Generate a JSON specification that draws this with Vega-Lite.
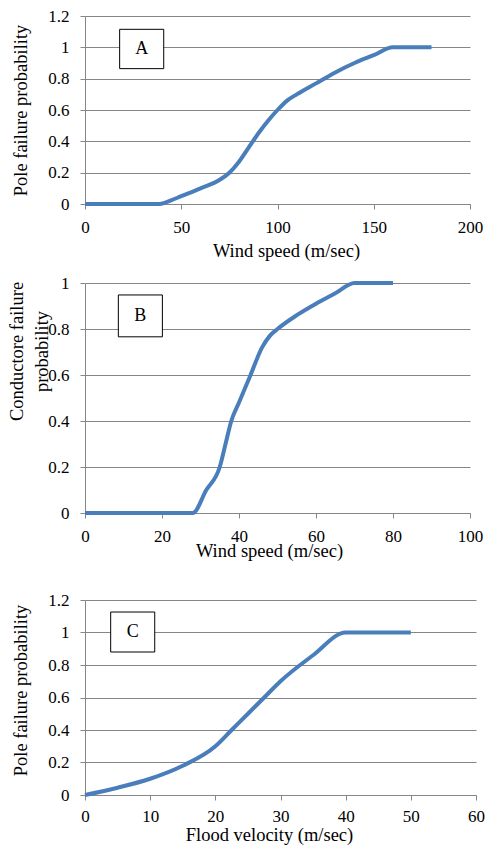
{
  "$schema": "https://vega.github.io/schema/vega-lite/v6.json",
  "padding": {"left": 7, "top": 7, "right": 5, "bottom": 2},
  "background": "white",
  "config": {
    "view": {"stroke": null},
    "font": "Liberation Serif, Times New Roman, serif",
    "axis": {
      "labelFont": "Liberation Serif, Times New Roman, serif",
      "titleFont": "Liberation Serif, Times New Roman, serif",
      "labelFontSize": 17,
      "titleFontSize": 18.5,
      "titleFontWeight": "normal",
      "labelColor": "black",
      "titleColor": "black",
      "domainColor": "#868686",
      "tickColor": "#868686",
      "gridColor": "#868686",
      "tickSize": 5,
      "tickCount": 12,
      "labelOverlap": false
    },
    "axisX": {"grid": false, "labelFlush": false, "labelPadding": 10},
    "axisY": {"grid": true, "titlePadding": 17, "labelPadding": 11}
  },
  "datasets": {
    "a": [
      {"x": 0, "y": 0}, {"x": 10, "y": 0}, {"x": 20, "y": 0}, {"x": 30, "y": 0}, {"x": 38, "y": 0},
      {"x": 45, "y": 0.025}, {"x": 50, "y": 0.05}, {"x": 60, "y": 0.1}, {"x": 70, "y": 0.155},
      {"x": 75, "y": 0.2}, {"x": 80, "y": 0.27}, {"x": 85, "y": 0.36}, {"x": 90, "y": 0.45},
      {"x": 95, "y": 0.53}, {"x": 100, "y": 0.6}, {"x": 105, "y": 0.66}, {"x": 110, "y": 0.7},
      {"x": 120, "y": 0.77}, {"x": 130, "y": 0.84}, {"x": 140, "y": 0.9}, {"x": 150, "y": 0.95},
      {"x": 160, "y": 1}, {"x": 170, "y": 1}, {"x": 180, "y": 1}
    ],
    "b": [
      {"x": 0, "y": 0}, {"x": 10, "y": 0}, {"x": 20, "y": 0}, {"x": 28, "y": 0},
      {"x": 31.5, "y": 0.1}, {"x": 35, "y": 0.2}, {"x": 36.5, "y": 0.3}, {"x": 38, "y": 0.4},
      {"x": 40, "y": 0.48}, {"x": 43, "y": 0.6}, {"x": 46, "y": 0.72}, {"x": 48, "y": 0.77},
      {"x": 50, "y": 0.8}, {"x": 55, "y": 0.86}, {"x": 60, "y": 0.91}, {"x": 65, "y": 0.955},
      {"x": 70, "y": 1}, {"x": 75, "y": 1}, {"x": 80, "y": 1}
    ],
    "c": [
      {"x": 0, "y": 0}, {"x": 5, "y": 0.045}, {"x": 10, "y": 0.1}, {"x": 15, "y": 0.18},
      {"x": 20, "y": 0.3}, {"x": 22.5, "y": 0.4}, {"x": 25, "y": 0.5}, {"x": 27.5, "y": 0.6},
      {"x": 30, "y": 0.7}, {"x": 35, "y": 0.86}, {"x": 40, "y": 1}, {"x": 45, "y": 1}, {"x": 50, "y": 1}
    ],
    "boxa": [{"x1": 18, "x2": 40.9, "y1": 0.864, "y2": 1.115, "xc": 29.45, "yc": 0.99, "label": "A"}],
    "boxb": [{"x1": 8.66, "x2": 20.1, "y1": 0.766, "y2": 0.948, "xc": 14.38, "yc": 0.857, "label": "B"}],
    "boxc": [{"x1": 3.94, "x2": 10.7, "y1": 0.88, "y2": 1.126, "xc": 7.32, "yc": 1.003, "label": "C"}]
  },
  "vconcat": [
    {
      "vconcat": [
        {
          "width": 385, "height": 188,
          "layer": [
            {
              "data": {"name": "a"},
              "mark": {"type": "line", "color": "#4a7ebb", "strokeWidth": 4, "interpolate": "monotone"},
              "encoding": {
                "x": {"field": "x", "type": "quantitative", "scale": {"domain": [0, 200]}, "axis": {"values": [0, 50, 100, 150, 200], "tickCount": 12, "labelOverlap": false, "title": "Wind speed (m/sec)", "titlePadding": 6, "titleX": 201}},
                "y": {"field": "y", "type": "quantitative", "scale": {"domain": [0, 1.2]}, "axis": {"values": [0, 0.2, 0.4, 0.6, 0.8, 1, 1.2], "tickCount": 12, "labelOverlap": false, "format": "~g", "title": "Pole failure probability"}}
              }
            },
            {
              "data": {"name": "boxa"},
              "mark": {"type": "rect", "fill": "white", "stroke": "black", "strokeWidth": 1},
              "encoding": {
                "x": {"field": "x1", "type": "quantitative"}, "x2": {"field": "x2"},
                "y": {"field": "y1", "type": "quantitative"}, "y2": {"field": "y2"}
              }
            },
            {
              "data": {"name": "boxa"},
              "mark": {"type": "text", "font": "Liberation Serif, Times New Roman, serif", "fontSize": 18, "baseline": "middle", "align": "center"},
              "encoding": {
                "x": {"field": "xc", "type": "quantitative"},
                "y": {"field": "yc", "type": "quantitative"},
                "text": {"field": "label"}
              }
            }
          ]
        },
        {
          "width": 385, "height": 230,
          "layer": [
            {
              "data": {"name": "b"},
              "mark": {"type": "line", "color": "#4a7ebb", "strokeWidth": 4, "interpolate": "monotone"},
              "encoding": {
                "x": {"field": "x", "type": "quantitative", "scale": {"domain": [0, 100]}, "axis": {"values": [0, 20, 40, 60, 80, 100], "tickCount": 12, "labelOverlap": false, "title": "Wind speed (m/sec)", "titlePadding": -3, "titleX": 184}},
                "y": {"field": "y", "type": "quantitative", "scale": {"domain": [0, 1]}, "axis": {"values": [0, 0.2, 0.4, 0.6, 0.8, 1], "tickCount": 12, "labelOverlap": false, "format": "~g", "title": ["Conductore failure", "probability"], "titleLineHeight": 25, "titlePadding": -4, "titleY": 68}}
              }
            },
            {
              "data": {"name": "boxb"},
              "mark": {"type": "rect", "fill": "white", "stroke": "black", "strokeWidth": 1},
              "encoding": {
                "x": {"field": "x1", "type": "quantitative"}, "x2": {"field": "x2"},
                "y": {"field": "y1", "type": "quantitative"}, "y2": {"field": "y2"}
              }
            },
            {
              "data": {"name": "boxb"},
              "mark": {"type": "text", "font": "Liberation Serif, Times New Roman, serif", "fontSize": 18, "baseline": "middle", "align": "center"},
              "encoding": {
                "x": {"field": "xc", "type": "quantitative"},
                "y": {"field": "yc", "type": "quantitative"},
                "text": {"field": "label"}
              }
            }
          ]
        }
      ],
      "spacing": 14
    },
    {
      "width": 391, "height": 195,
      "layer": [
        {
          "data": {"name": "c"},
          "mark": {"type": "line", "color": "#4a7ebb", "strokeWidth": 4, "interpolate": "monotone"},
          "encoding": {
            "x": {"field": "x", "type": "quantitative", "scale": {"domain": [0, 60]}, "axis": {"values": [0, 10, 20, 30, 40, 50, 60], "tickCount": 12, "labelOverlap": false, "title": "Flood velocity (m/sec)", "titlePadding": 1, "labelPadding": 8, "titleX": 184}},
            "y": {"field": "y", "type": "quantitative", "scale": {"domain": [0, 1.2]}, "axis": {"values": [0, 0.2, 0.4, 0.6, 0.8, 1, 1.2], "tickCount": 12, "labelOverlap": false, "format": "~g", "title": "Pole failure probability", "titleY": 90}}
          }
        },
        {
          "data": {"name": "boxc"},
          "mark": {"type": "rect", "fill": "white", "stroke": "black", "strokeWidth": 1},
          "encoding": {
            "x": {"field": "x1", "type": "quantitative"}, "x2": {"field": "x2"},
            "y": {"field": "y1", "type": "quantitative"}, "y2": {"field": "y2"}
          }
        },
        {
          "data": {"name": "boxc"},
          "mark": {"type": "text", "font": "Liberation Serif, Times New Roman, serif", "fontSize": 18, "baseline": "middle", "align": "center"},
          "encoding": {
            "x": {"field": "xc", "type": "quantitative"},
            "y": {"field": "yc", "type": "quantitative"},
            "text": {"field": "label"}
          }
        }
      ]
    }
  ],
  "spacing": 31
}
